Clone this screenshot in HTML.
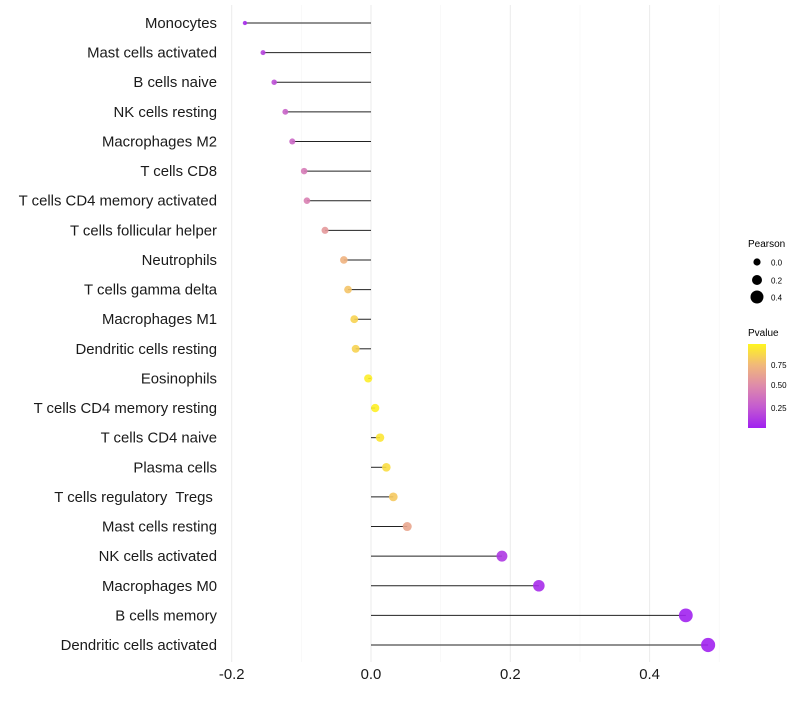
<!DOCTYPE html>
<html><head><meta charset="utf-8"><style>
body{margin:0;background:#fff;font-family:"Liberation Sans",sans-serif;}
svg text{font-family:"Liberation Sans",sans-serif;white-space:pre;}
</style></head><body>
<svg id="chart" width="800" height="700">
<defs><linearGradient id="pg" x1="0" y1="1" x2="0" y2="0">
<stop offset="0" stop-color="#A020F0"/><stop offset="0.25" stop-color="#C45BD0"/>
<stop offset="0.5" stop-color="#DE8AAB"/><stop offset="0.75" stop-color="#F1B87A"/>
<stop offset="1" stop-color="#FFF51F"/></linearGradient></defs>
<g id="grid"></g><g id="marks"></g><g id="ylabels"></g><g id="xlabels"></g>
<g>
<text x="748" y="247" font-size="10">Pearson</text>
<circle cx="757" cy="262" r="3.6" fill="#000"/>
<text x="771" y="265.5" font-size="8">0.0</text>
<circle cx="757" cy="280" r="5" fill="#000"/>
<text x="771" y="283.5" font-size="8">0.2</text>
<circle cx="757" cy="297" r="6.5" fill="#000"/>
<text x="771" y="300.5" font-size="8">0.4</text>
<text x="748" y="336" font-size="10">Pvalue</text>
<rect x="748" y="344" width="18" height="84" fill="url(#pg)"/>
<text x="771" y="368" font-size="8">0.75</text>
<text x="771" y="388" font-size="8">0.50</text>
<text x="771" y="411" font-size="8">0.25</text>
</g>
</svg>
<script>
const categories=["Monocytes","Mast cells activated","B cells naive","NK cells resting","Macrophages M2","T cells CD8","T cells CD4 memory activated","T cells follicular helper","Neutrophils","T cells gamma delta","Macrophages M1","Dendritic cells resting","Eosinophils","T cells CD4 memory resting","T cells CD4 naive","Plasma cells","T cells regulatory  Tregs ","Mast cells resting","NK cells activated","Macrophages M0","B cells memory","Dendritic cells activated"];
const pearson=[-0.181,-0.155,-0.139,-0.123,-0.113,-0.096,-0.092,-0.066,-0.039,-0.033,-0.024,-0.022,-0.004,0.006,0.013,0.022,0.032,0.052,0.188,0.241,0.452,0.484];
const pvalue=[0.05,0.15,0.2,0.3,0.32,0.42,0.45,0.58,0.72,0.8,0.86,0.86,0.97,0.98,0.94,0.9,0.82,0.65,0.1,0.05,0.01,0.01];
const xticks=[-0.2,0,0.2,0.4];
const xtickLabels=["-0.2","0.0","0.2","0.4"];
const NS="http://www.w3.org/2000/svg";
const x=v=>371+v*696.5;
const y=i=>23+i*(622/(categories.length-1));
const rad=v=>Math.sqrt(Math.max(3,17+68*v));
const stops=[[0,[160,32,240]],[0.25,[196,91,208]],[0.5,[222,138,171]],[0.75,[241,184,122]],[1,[255,245,31]]];
function col(p){for(let k=1;k<stops.length;k++){if(p<=stops[k][0]){const a=stops[k-1],b=stops[k],t=(p-a[0])/(b[0]-a[0]);return "rgb("+a[1].map((c,j)=>Math.round(c+(b[1][j]-c)*t)).join(",")+")";}}return "rgb(255,245,31)";}
function mk(tag,at,parent){const e=document.createElementNS(NS,tag);for(const k in at)e.setAttribute(k,at[k]);document.getElementById(parent).appendChild(e);return e;}
for(let v=-0.2;v<=0.5001;v+=0.1){const major=Math.abs(Math.round(v*10))%2===0;
const g=mk("line",{x1:x(v),x2:x(v),y1:5,y2:662,stroke:major?"#ebebeb":"#f5f5f5","stroke-width":major?1:0.6},"grid");

}
categories.forEach((c,i)=>{
const l=mk("line",{x1:x(0),x2:x(pearson[i]),y1:y(i),y2:y(i),stroke:"#222","stroke-width":1},"marks");


const p=mk("circle",{cx:x(pearson[i]),cy:y(i),r:rad(pearson[i]),fill:col(pvalue[i]),"fill-opacity":0.9},"marks");


const t=mk("text",{x:217,y:y(i)+5,"text-anchor":"end","font-size":14.9,fill:"#1a1a1a"},"ylabels");
t.textContent=c;

});
xticks.forEach((v,i)=>{const t=mk("text",{x:x(v),y:679,"text-anchor":"middle","font-size":14.9,fill:"#1a1a1a"},"xlabels");
t.textContent=xtickLabels[i];

});
</script>
</body></html>
